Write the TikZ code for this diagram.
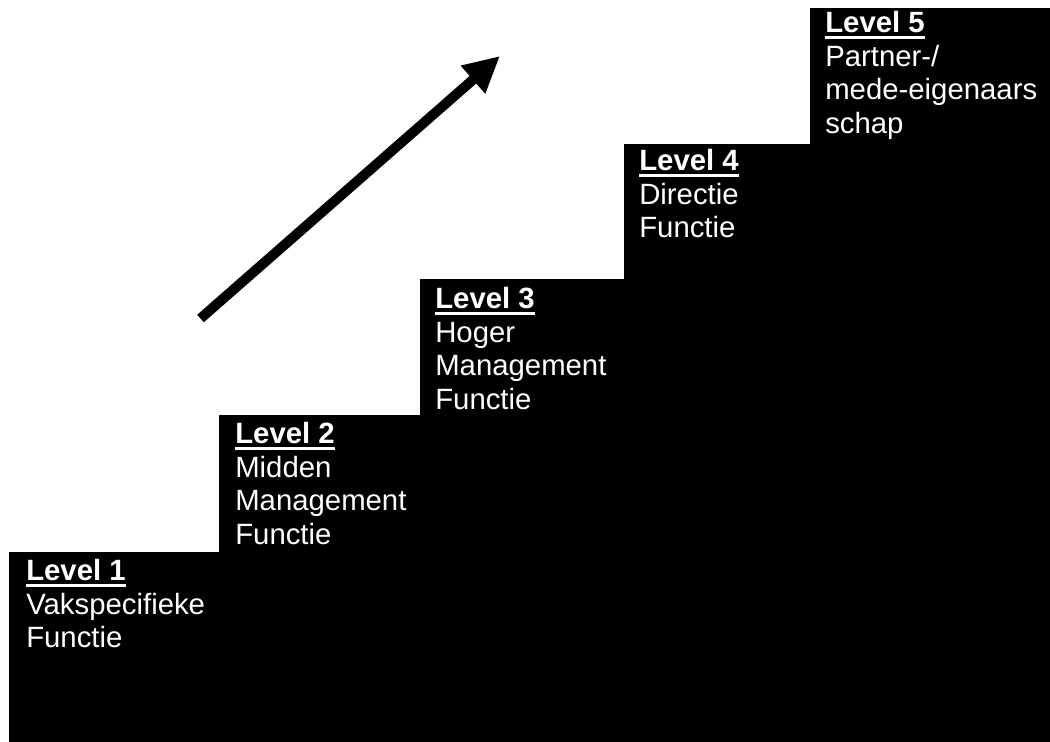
\documentclass[tikz,border=0pt]{standalone}
\usepackage{fontspec}
\setmainfont{Liberation Sans}
\usetikzlibrary{arrows.meta}
% bold heading with a heavy underline
\newcommand{\lvlhead}[1]{\setbox0\hbox{\bfseries #1}\rlap{\rule[-4.6pt]{\wd0}{2pt}}\box0}

\begin{document}
\begin{tikzpicture}[x=0.75pt, y=-0.75pt,
  stair/.style={fill=black},
  lvltext/.style={anchor=north west, inner sep=0pt, text=white, align=left,
                  font=\fontsize{22}{25.2}\selectfont},
  rise/.style={-{Triangle[length=27pt,width=26pt]}, line width=7.5pt},
]
\useasboundingbox (0,0) rectangle (1050,742);
% ---------------- steps (left edge / top edge)
\foreach \l/\t in {9/552, 219/415, 420/279, 624/144, 810/8}
  \fill[stair] (\l,\t) rectangle (1050,742);
% ---------------- step labels
\node[lvltext] (lv1) at (26,559) {\lvlhead{Level 1}\\Vakspecifieke\\Functie};
\node[lvltext] (lv2) at (235,422) {\lvlhead{Level 2}\\Midden\\Management\\Functie};
\node[lvltext] (lv3) at (435,287) {\lvlhead{Level 3}\\Hoger\\Management\\Functie};
\node[lvltext] (lv4) at (639,149) {\lvlhead{Level 4}\\Directie\\Functie};
\node[lvltext] (lv5) at (825,11) {\lvlhead{Level 5}\\Partner-/\\mede-eigenaars\\schap};
% ---------------- upward arrow
\coordinate (rise start) at (200.5,318.5);
\coordinate (rise end) at (500,56);
\draw[rise] (rise start) -- (rise end);
\end{tikzpicture}
\end{document}
